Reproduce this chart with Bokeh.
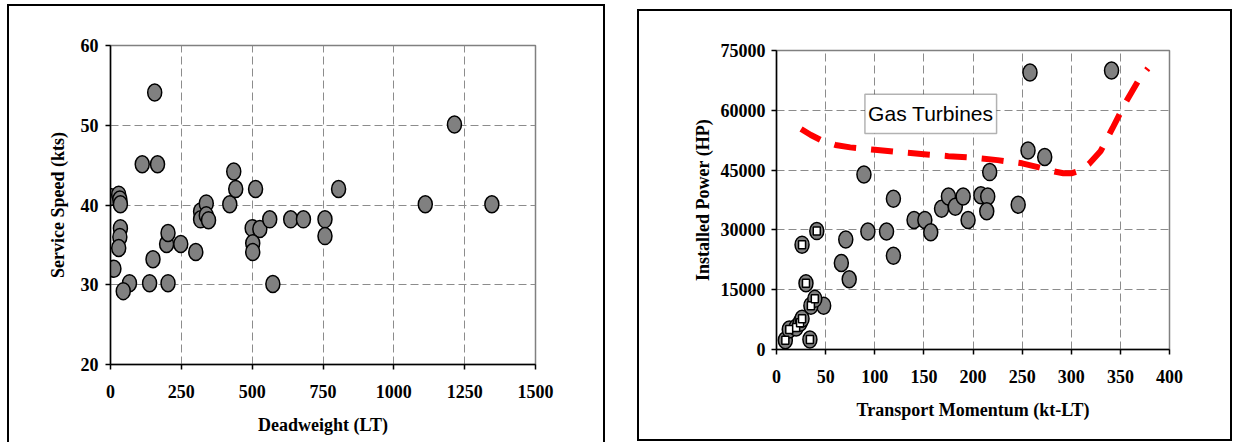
from bokeh.plotting import figure
from bokeh.layouts import row
from bokeh.models import Range1d, FixedTicker, BoxAnnotation, Label
from bokeh.embed import file_html
from bokeh.resources import INLINE

# ---------------- data: left chart ----------------
deadweight_lt = [0, 29, 33, 35, 35, 33, 29, 12, 67, 45,
                 112, 166, 156, 150, 138, 203, 198, 203, 248, 301,
                 318, 318, 338, 338, 346, 421, 435, 442, 512, 500,
                 527, 502, 502, 562, 573, 636, 681, 757, 757, 805,
                 1111, 1214, 1346]
service_speed_kts = [41.0, 41.3, 40.7, 40.1, 37.1, 36.0, 34.6, 32.0, 30.2, 29.2,
                     45.1, 45.1, 54.1, 33.2, 30.2, 30.2, 35.1, 36.5, 35.1, 34.1,
                     39.2, 38.2, 40.2, 38.7, 38.1, 40.1, 44.2, 42.0, 42.0, 37.1,
                     37.0, 35.2, 34.1, 38.2, 30.1, 38.2, 38.2, 38.2, 36.1, 42.0,
                     40.1, 50.1, 40.1]
left_x_ticks = [0, 250, 500, 750, 1000, 1250, 1500]
left_y_ticks = [20, 30, 40, 50, 60]

# ---------------- data: right chart ----------------
momentum_circles = [48, 66, 70.5, 74, 89, 93, 112, 119, 119, 140,
                    151, 157, 168, 175, 182, 190, 195, 208, 215, 214,
                    217, 246, 256, 258, 273, 341]
power_circles = [11000, 21700, 27600, 17600, 43900, 29600, 29600, 37800, 23500, 32500,
                 32500, 29400, 35300, 38400, 35800, 38400, 32500, 38700, 38400, 34700,
                 44500, 36300, 49900, 69500, 48300, 70000]
momentum_squares = [9, 13, 20, 24, 26, 34, 35, 39, 30, 26, 41]
power_squares = [2300, 5000, 5500, 6700, 7700, 2500, 11000, 12700, 16600, 26300, 29700]
gas_turbine_momentum = [25, 35, 47, 60, 75, 100, 125, 150, 175, 200, 225, 250,
                        265, 280, 292, 300, 308, 318, 330, 342, 355, 368, 378]
gas_turbine_power = [55300, 53800, 52300, 51300, 50700, 50100, 49500, 49000, 48500,
                     48100, 47500, 46700, 45800, 44800, 44200, 44200, 44800, 46500,
                     49800, 55500, 61800, 67300, 70500]
right_x_ticks = [0, 50, 100, 150, 200, 250, 300, 350, 400]
right_y_ticks = [0, 15000, 30000, 45000, 60000, 75000]

SERIF = "Liberation Serif"
GREY = "#808080"
GRID = "#8c8c8c"


def style(p, xticks, yticks):
    p.xaxis.ticker = FixedTicker(ticks=xticks)
    p.yaxis.ticker = FixedTicker(ticks=yticks)
    p.xgrid.ticker = FixedTicker(ticks=xticks)
    p.ygrid.ticker = FixedTicker(ticks=yticks)
    for g in (p.xgrid, p.ygrid):
        g.grid_line_color = GRID
        g.grid_line_dash = "8 4"
        g.grid_line_width = 1
    for ax in (p.xaxis, p.yaxis):
        ax.axis_line_color = "black"
        ax.axis_line_width = 1.5
        ax.major_tick_line_color = "black"
        ax.major_tick_line_width = 1.5
        ax.major_tick_in = 0
        ax.major_tick_out = 5
        ax.minor_tick_line_color = None
        ax.major_label_text_font = SERIF
        ax.major_label_text_font_style = "bold"
        ax.major_label_text_font_size = "18px"
        ax.major_label_text_color = "black"
        ax.axis_label_text_font = SERIF
        ax.axis_label_text_font_style = "bold"
        ax.axis_label_text_font_size = "18px"
        ax.axis_label_text_color = "black"
    p.outline_line_color = GREY
    p.outline_line_width = 1.5
    p.background_fill_color = "white"
    p.border_fill_color = "white"


# ---------------- left figure ----------------
p1 = figure(frame_width=421, frame_height=317, output_backend="svg", toolbar_location=None,
            title=None,
            x_range=Range1d(0, 1500), y_range=Range1d(20, 60),
            min_border_left=101, min_border_right=72, min_border_top=39, min_border_bottom=80,
            styles={"border-top": "2px solid black", "border-left": "2px solid black",
                    "border-right": "2px solid black"},
            margin=(4, 0, 0, 7))
style(p1, left_x_ticks, left_y_ticks)
p1.xaxis.axis_label = "Deadweight (LT)"
p1.yaxis.axis_label = "Service Speed (kts)"
p1.xaxis.major_label_standoff = 15
p1.xaxis.axis_label_standoff = 14
p1.yaxis.major_label_standoff = 7
p1.yaxis.axis_label_standoff = 10
p1.ellipse(x=deadweight_lt, y=service_speed_kts, width=14, height=17,
           width_units="screen", height_units="screen",
           fill_color=GREY, line_color="black", line_width=1.5)

# ---------------- right figure ----------------
p2 = figure(frame_width=389, frame_height=295, output_backend="svg", toolbar_location=None,
            title=None,
            x_range=Range1d(0, 400), y_range=Range1d(0, 75000),
            min_border_left=137, min_border_right=65, min_border_top=39, min_border_bottom=94,
            styles={"border": "2px solid black"},
            margin=(9, 0, 0, 32))
style(p2, right_x_ticks, right_y_ticks)
p2.xaxis.axis_label = "Transport Momentum (kt-LT)"
p2.yaxis.axis_label = "Installed Power (HP)"
p2.xaxis.major_label_standoff = 15
p2.xaxis.axis_label_standoff = 14
p2.yaxis.major_label_standoff = 6
p2.yaxis.axis_label_standoff = 5
p2.line(x=gas_turbine_momentum, y=gas_turbine_power, line_color="#ff0000",
        line_width=6, line_dash="22 15")
p2.ellipse(x=momentum_circles + momentum_squares, y=power_circles + power_squares,
           width=14, height=17, width_units="screen", height_units="screen",
           fill_color=GREY, line_color="black", line_width=1.5)
p2.rect(x=momentum_squares, y=power_squares, width=7, height=8,
        width_units="screen", height_units="screen",
        fill_color="white", line_color="black", line_width=1.5)
p2.add_layout(BoxAnnotation(left=90, right=224, bottom=54200, top=64000,
                            fill_color="white", fill_alpha=1.0,
                            line_color="black", line_width=1.5))
p2.add_layout(Label(x=157, y=59300, text="Gas Turbines", text_font="Liberation Sans",
                    text_font_size="21px", text_align="center", text_baseline="middle",
                    text_color="black"))

layout = row(p1, p2, spacing=0)
open("out.html", "w").write(file_html(layout, INLINE))
